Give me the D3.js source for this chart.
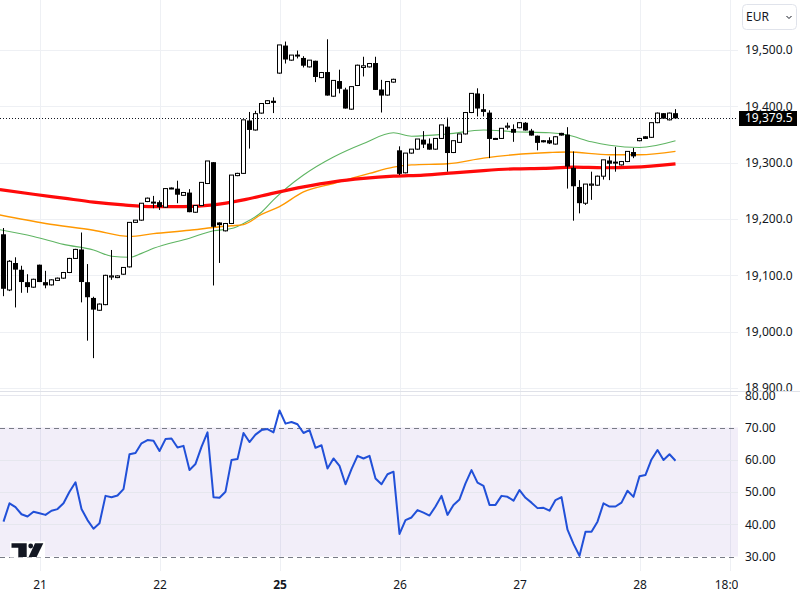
<!DOCTYPE html>
<html>
<head>
<meta charset="utf-8">
<script src="https://cdn.jsdelivr.net/npm/d3@7"></script>
<style>
  body { margin: 0; background: #fff; }
  svg { display: block; font-family: "Noto Sans", Roboto, sans-serif; }
</style>
</head>
<body>
<div class="chart"></div>
<script>
// hourly candles, index based (weekend gap removed like the original)
const opens = [19172,19074,19121,19109,19087,19079,19118,19087,19083,19091,19095,19105,19130,19145,19087,19059,19038,19048,19097,19096,
  19102,19115,19194,19198,19231,19229,19229,19221,19254,19253,19242,19246,19212,19224,19263,19300,19193,19179,19192,19277,
  19281,19374,19358,19388,19405,19409,19459,19507,19482,19490,19485,19470,19480,19451,19460,19418,19444,19429,19395,19437,
  19469,19470,19476,19429,19420,19443,19321,19282,19317,19324,19340,19333,19324,19343,19363,19318,19336,19351,19389,19422,
  19394,19388,19343,19343,19363,19359,19362,19370,19356,19347,19339,19339,19333,19352,19349,19290,19256,19228,19260,19260,
  19276,19303,19300,19296,19302,19318,19339,19346,19345,19371,19387,19376,19387];
const highs = [19184,19127,19132,19117,19102,19094,19119,19108,19093,19096,19106,19131,19147,19176,19120,19062,19050,19101,19145,19100,
  19114,19194,19198,19228,19238,19241,19233,19255,19256,19268,19248,19253,19224,19265,19303,19301,19194,19193,19278,19282,
  19376,19390,19392,19405,19411,19416,19509,19515,19491,19499,19489,19482,19481,19461,19519,19446,19465,19433,19435,19474,
  19488,19477,19488,19447,19444,19449,19329,19317,19324,19342,19356,19343,19343,19367,19380,19339,19351,19390,19423,19432,
  19422,19393,19344,19361,19371,19368,19372,19372,19360,19348,19340,19345,19347,19353,19363,19320,19269,19262,19284,19277,
  19305,19311,19328,19303,19320,19326,19344,19347,19371,19389,19388,19389,19395];
const lows = [19063,19072,19043,19069,19069,19078,19088,19077,19082,19090,19094,19104,19129,19052,18984,18953,19037,19047,19092,19095,
  19101,19114,19193,19197,19230,19219,19216,19220,19253,19228,19241,19212,19211,19223,19262,19082,19122,19178,19191,19276,
  19280,19325,19357,19387,19404,19388,19458,19476,19481,19485,19469,19469,19443,19450,19419,19417,19423,19396,19394,19436,
  19453,19469,19429,19389,19419,19442,19278,19281,19316,19323,19326,19323,19323,19342,19284,19317,19335,19350,19388,19382,
  19382,19308,19342,19342,19359,19337,19361,19357,19348,19322,19336,19333,19332,19348,19254,19197,19210,19225,19234,19259,
  19270,19269,19284,19295,19301,19308,19338,19342,19344,19370,19378,19375,19378];
const closes = [19077,19125,19111,19089,19080,19093,19089,19083,19092,19095,19105,19130,19146,19089,19062,19040,19049,19100,19099,19099,
  19114,19194,19198,19228,19237,19230,19222,19254,19255,19244,19247,19213,19224,19265,19303,19187,19190,19192,19278,19281,
  19376,19359,19387,19405,19410,19407,19509,19484,19491,19491,19473,19482,19453,19460,19420,19446,19432,19397,19435,19473,
  19472,19476,19430,19420,19444,19448,19281,19317,19324,19342,19333,19324,19343,19367,19318,19339,19351,19389,19423,19397,
  19391,19343,19343,19361,19365,19354,19371,19358,19349,19336,19337,19335,19346,19349,19294,19259,19229,19262,19262,19276,
  19305,19299,19301,19302,19320,19312,19343,19343,19371,19388,19379,19388,19379.5];

const rsiValues = [40.8,46.5,45.3,43.1,42.4,43.9,43.4,42.9,44.2,44.7,46.5,50.1,53.0,44.7,41.3,38.6,40.3,48.8,48.4,48.9,
  50.9,61.7,62.1,65.1,66.1,65.9,62.7,66.4,66.6,63.8,64.3,56.8,58.7,64.0,68.5,48.4,48.2,50.1,59.9,60.2,
  68.3,65.5,67.8,69.2,69.5,68.5,75.3,71.2,71.7,71.0,68.3,69.2,63.7,64.5,57.3,60.4,58.1,52.4,57.1,61.2,
  60.4,61.2,54.2,52.4,55.5,56.3,37.0,41.3,42.1,44.4,43.6,42.7,45.5,48.8,42.9,46.0,47.7,52.7,56.8,52.9,
  51.9,46.0,46.0,48.8,48.5,47.3,50.6,48.2,46.7,45.0,45.1,44.2,47.5,48.4,38.3,33.9,30.2,37.7,37.7,40.8,
  46.5,45.5,45.5,46.7,50.4,48.5,54.9,55.3,60.1,63.0,59.9,61.7,59.7];

// moving averages read at [candle index, price]; -0.6 is the left edge of the pane
const maRed = [[-0.6,19252],[5,19244],[10,19237],[15,19230],[20,19225],[25,19222],[30,19222],[35,19225],[40,19234],[45,19246],
  [50,19257],[55,19266],[60,19272],[65,19276],[70,19278],[75,19282],[80,19286],[85,19289],[90,19290],[95,19292],[100,19291],[105,19292],[112,19298]];
const maOrange = [[-0.6,19207],[7,19192],[15,19180],[21,19169],[25,19174],[31,19180],[35,19185],[38,19188],[40,19190],[43,19208],[46,19222],
  [50,19248],[55,19263],[61,19281],[65,19292],[68,19296],[74,19298],[80,19308],[85,19314],[91,19318],[94,19319],[101,19314],[106,19314],[112,19320]];
const maGreen = [[-0.6,19181],[5,19169],[10,19155],[15,19145],[18,19134],[21,19132],[23,19139],[25,19148],[31,19166],[35,19179],[38,19183],
  [40,19192],[43,19212],[45,19234],[50,19278],[55,19310],[60,19334],[65,19353],[68,19347],[74,19351],[80,19358],[85,19355],[91,19353],
  [94,19349],[98,19337],[101,19331],[106,19327],[112,19339]];

const dayStarts = [6, 26, 46, 66, 86, 106, 121];
const dayLabels = ["21", "22", "25", "26", "27", "28", "18:00"];
const priceTicks = [18900, 19000, 19100, 19200, 19300, 19400, 19500];
const rsiTicks = [30, 40, 50, 60, 70, 80];
const lastPrice = 19379.5;
const currency = "EUR";

const width = 800, height = 600;
const plotRight = 738, sepY = 391, rsiBottom = 571;

const svg = d3.select(".chart").append("svg").attr("width", width).attr("height", height);
const defs = svg.append("defs");
defs.append("clipPath").attr("id", "mainClip").append("rect").attr("x", 0).attr("y", 0).attr("width", plotRight).attr("height", sepY);
defs.append("clipPath").attr("id", "mainAxisClip").append("rect").attr("x", plotRight).attr("y", 0).attr("width", 62).attr("height", sepY);
defs.append("clipPath").attr("id", "rsiAxisClip").append("rect").attr("x", plotRight).attr("y", sepY).attr("width", 62).attr("height", rsiBottom - sepY);
defs.append("clipPath").attr("id", "timeClip").append("rect").attr("x", 0).attr("y", rsiBottom).attr("width", plotRight).attr("height", 29);

svg.append("rect").attr("width", width).attr("height", height).attr("fill", "#fff");

const x = d3.scaleLinear().domain([0, 1]).range([3.5, 9.5]);
const yP = d3.scaleLinear().domain([18900, 19500]).range([388, 50]);
const yR = d3.scaleLinear().domain([30, 70]).range([556.5, 427.5]);

const candles = opens.map((o, i) => ({ i, o, h: highs[i], l: lows[i], c: closes[i] }));

// grids
svg.append("g").selectAll("line").data(dayStarts).join("line")
  .attr("x1", d => Math.round(x(d)) + 0.5).attr("x2", d => Math.round(x(d)) + 0.5)
  .attr("y1", 0).attr("y2", rsiBottom).attr("stroke", "#eef0f4");

svg.append("g").selectAll("line").data(priceTicks).join("line")
  .attr("x1", 0).attr("x2", plotRight)
  .attr("y1", d => Math.round(yP(d)) + 0.5).attr("y2", d => Math.round(yP(d)) + 0.5)
  .attr("stroke", "#eef0f4");

// rsi pane background
svg.append("rect").attr("x", 0).attr("y", yR(70)).attr("width", plotRight).attr("height", yR(30) - yR(70))
  .attr("fill", "#7e57c2").attr("fill-opacity", 0.1);
svg.append("g").selectAll("line").data([40, 50, 60, 80]).join("line")
  .attr("x1", 0).attr("x2", plotRight)
  .attr("y1", d => Math.round(yR(d)) + 0.5).attr("y2", d => Math.round(yR(d)) + 0.5)
  .attr("stroke", "#e6e7ee");
svg.append("g").selectAll("line").data([70, 30]).join("line")
  .attr("x1", 0).attr("x2", plotRight)
  .attr("y1", d => Math.round(yR(d)) + 0.5).attr("y2", d => Math.round(yR(d)) + 0.5)
  .attr("stroke", "#787b86").attr("stroke-dasharray", "5,4");

// moving averages
const main = svg.append("g").attr("clip-path", "url(#mainClip)");
const maLine = d3.line().x(d => x(d[0])).y(d => yP(d[1])).curve(d3.curveMonotoneX);
main.append("path").attr("d", maLine(maGreen)).attr("fill", "none").attr("stroke", "#5fb563").attr("stroke-width", 1.1);
main.append("path").attr("d", maLine(maOrange)).attr("fill", "none").attr("stroke", "#ff9800").attr("stroke-width", 1.4);
main.append("path").attr("d", maLine(maRed)).attr("fill", "none").attr("stroke", "#ff0a0a").attr("stroke-width", 3.2);

// candles
const cg = main.append("g");
cg.selectAll(".wick").data(candles).join("line").attr("class", "wick")
  .attr("x1", d => x(d.i)).attr("x2", d => x(d.i))
  .attr("y1", d => yP(d.h)).attr("y2", d => yP(d.l))
  .attr("stroke", "#000").attr("stroke-width", 1);
cg.selectAll(".body").data(candles).join("rect").attr("class", "body")
  .attr("x", d => d.c >= d.o ? x(d.i) - 2 : x(d.i) - 2.5)
  .attr("width", d => d.c >= d.o ? 4 : 5)
  .attr("y", d => d.c >= d.o ? yP(d.c) : yP(d.o) - 0.5)
  .attr("height", d => d.c >= d.o ? Math.max(1, yP(d.o) - yP(d.c)) : Math.max(1.5, yP(d.c) - yP(d.o) + 1))
  .attr("fill", d => d.c >= d.o ? "#fff" : "#000")
  .attr("stroke", d => d.c >= d.o ? "#000" : "none")
  .attr("stroke-width", 1);

// last price line
svg.append("line").attr("x1", 0).attr("x2", plotRight)
  .attr("y1", Math.round(yP(lastPrice)) + 0.5).attr("y2", Math.round(yP(lastPrice)) + 0.5)
  .attr("stroke", "#131722").attr("stroke-dasharray", "1,2");

// rsi line
svg.append("path").datum(rsiValues)
  .attr("d", d3.line().x((d, i) => x(i)).y(d => yR(d)))
  .attr("fill", "none").attr("stroke", "#2150d8").attr("stroke-width", 2).attr("stroke-linejoin", "round");

// pane separator
svg.append("line").attr("x1", 0).attr("x2", width).attr("y1", sepY + 0.5).attr("y2", sepY + 0.5).attr("stroke", "#dfe1e8");

// price axis
const pAxis = svg.append("g").attr("clip-path", "url(#mainAxisClip)").append("g")
  .attr("transform", `translate(${plotRight},0)`)
  .call(d3.axisRight(yP).tickValues(priceTicks).tickSize(0).tickPadding(7).tickFormat(d3.format(",.1f")));
pAxis.select(".domain").remove();
pAxis.selectAll("text").attr("font-size", 12).attr("fill", "#131722").attr("font-family", "Noto Sans, sans-serif");

const rAxis = svg.append("g").attr("clip-path", "url(#rsiAxisClip)").append("g")
  .attr("transform", `translate(${plotRight},0)`)
  .call(d3.axisRight(yR).tickValues(rsiTicks).tickSize(0).tickPadding(7).tickFormat(d3.format(".2f")));
rAxis.select(".domain").remove();
rAxis.selectAll("text").attr("font-size", 12).attr("fill", "#131722").attr("font-family", "Noto Sans, sans-serif");

// time axis
const tAxis = svg.append("g").attr("clip-path", "url(#timeClip)").append("g")
  .attr("transform", `translate(0,${rsiBottom})`)
  .call(d3.axisBottom(x).tickValues(dayStarts).tickSize(0).tickPadding(9).tickFormat((d, i) => dayLabels[i]));
tAxis.select(".domain").remove();
tAxis.selectAll("text").attr("font-size", 12).attr("fill", "#131722").attr("font-family", "Noto Sans, sans-serif")
  .attr("font-weight", (d, i) => dayLabels[i] === "25" ? "bold" : "normal");

// last price tag
const tag = svg.append("g");
tag.append("rect").attr("x", 739).attr("y", Math.round(yP(lastPrice)) - 7).attr("width", 58).attr("height", 15).attr("fill", "#000");
tag.append("text").attr("x", 745).attr("y", yP(lastPrice)).attr("dy", "0.35em")
  .attr("font-size", 12).attr("fill", "#fff").text(d3.format(",.1f")(lastPrice));

// currency button
const btn = svg.append("g");
btn.append("rect").attr("x", 742.5).attr("y", 4.5).attr("width", 54).attr("height", 25).attr("rx", 4)
  .attr("fill", "#fff").attr("stroke", "#e0e3eb");
btn.append("text").attr("x", 746).attr("y", 21).attr("font-size", 12).attr("fill", "#131722").text(currency);
btn.append("path").attr("d", "M786.5,16 l2.5,2.5 l2.5,-2.5").attr("fill", "none").attr("stroke", "#131722").attr("stroke-width", 1);

// logo
const logo = svg.append("g");
logo.append("rect").attr("x", 10).attr("y", 541.5).attr("width", 35).attr("height", 16).attr("fill", "#fff");
logo.append("path").attr("d", "M11.5,543.3 H26.7 V557 H18.3 V547.7 H11.5 Z").attr("fill", "#131722");
logo.append("circle").attr("cx", 30.7).attr("cy", 546).attr("r", 2.4).attr("fill", "#131722");
logo.append("path").attr("d", "M35,543.3 H43.3 L36.6,557 H28.6 Z").attr("fill", "#131722");
</script>
</body>
</html>
